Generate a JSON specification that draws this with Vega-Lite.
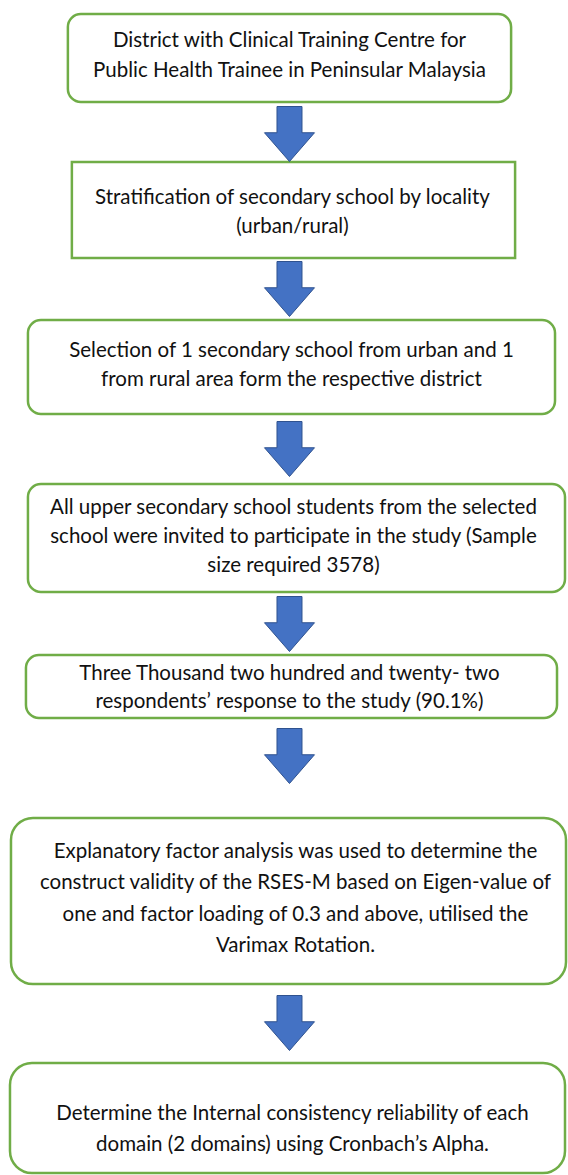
{
  "$schema": "https://vega.github.io/schema/vega-lite/v6.json",
  "width": 568,
  "height": 1175,
  "autosize": {"type": "fit", "contains": "padding"},
  "padding": 0,
  "background": "white",
  "config": {"view": {"stroke": null}},
  "datasets": {
    "boxes": [
      {"id": 1, "x1": 68, "x2": 512, "y1": 14, "y2": 102},
      {"id": 2, "x1": 72, "x2": 516, "y1": 162, "y2": 258},
      {"id": 3, "x1": 28, "x2": 556, "y1": 320, "y2": 414},
      {"id": 4, "x1": 28, "x2": 566, "y1": 484, "y2": 592},
      {"id": 5, "x1": 26, "x2": 558, "y1": 655, "y2": 718},
      {"id": 6, "x1": 11, "x2": 567, "y1": 818, "y2": 984},
      {"id": 7, "x1": 10, "x2": 566, "y1": 1063, "y2": 1173}
    ],
    "lines": [
      {"id": 1, "x": 290, "y": 41, "line": "District with Clinical Training Centre for"},
      {"id": 1, "x": 290, "y": 71, "line": "Public Health Trainee in Peninsular Malaysia"},
      {"id": 2, "x": 293, "y": 198, "line": "Stratification of secondary school by locality"},
      {"id": 2, "x": 293, "y": 227, "line": "(urban/rural)"},
      {"id": 3, "x": 292, "y": 351, "line": "Selection of 1 secondary school from urban and 1"},
      {"id": 3, "x": 292, "y": 380, "line": "from rural area form the respective district"},
      {"id": 4, "x": 294, "y": 508, "line": "All upper secondary school students from the selected"},
      {"id": 4, "x": 294, "y": 537, "line": "school were invited to participate in the study (Sample"},
      {"id": 4, "x": 294, "y": 566, "line": "size required 3578)"},
      {"id": 5, "x": 290, "y": 674, "line": "Three Thousand two hundred and twenty- two"},
      {"id": 5, "x": 290, "y": 702, "line": "respondents’ response to the study (90.1%)"},
      {"id": 6, "x": 296, "y": 852, "line": "Explanatory factor analysis was used to determine the"},
      {"id": 6, "x": 296, "y": 883, "line": "construct validity of the RSES-M based on Eigen-value of"},
      {"id": 6, "x": 296, "y": 915, "line": "one and factor loading of 0.3 and above, utilised the"},
      {"id": 6, "x": 296, "y": 946, "line": "Varimax Rotation."},
      {"id": 7, "x": 293, "y": 1114, "line": "Determine the Internal consistency reliability of each"},
      {"id": 7, "x": 293, "y": 1145, "line": "domain (2 domains) using Cronbach’s Alpha."}
    ],
    "arrows": [
      {"step": 1, "x": 290, "y": 134},
      {"step": 2, "x": 290, "y": 289},
      {"step": 3, "x": 290, "y": 449},
      {"step": 4, "x": 290, "y": 624},
      {"step": 5, "x": 290, "y": 756},
      {"step": 6, "x": 290, "y": 1023}
    ]
  },
  "layer": [
    {
      "data": {"name": "boxes"},
      "transform": [{"filter": "datum.id == 1 || datum.id == 3 || datum.id == 4 || datum.id == 5"}],
      "mark": {"type": "rect", "fill": "white", "stroke": "#70AD47", "strokeWidth": 2.5, "cornerRadius": 13},
      "encoding": {
        "x": {"field": "x1", "type": "quantitative", "scale": {"domain": [0, 568], "nice": false, "zero": false}, "axis": null},
        "x2": {"field": "x2"},
        "y": {"field": "y1", "type": "quantitative", "scale": {"domain": [0, 1175], "nice": false, "zero": false, "reverse": true}, "axis": null},
        "y2": {"field": "y2"}
      }
    },
    {
      "data": {"name": "boxes"},
      "transform": [{"filter": "datum.id == 2"}],
      "mark": {"type": "rect", "fill": "white", "stroke": "#70AD47", "strokeWidth": 2.5},
      "encoding": {
        "x": {"field": "x1", "type": "quantitative", "axis": null},
        "x2": {"field": "x2"},
        "y": {"field": "y1", "type": "quantitative", "axis": null},
        "y2": {"field": "y2"}
      }
    },
    {
      "data": {"name": "boxes"},
      "transform": [{"filter": "datum.id >= 6"}],
      "mark": {"type": "rect", "fill": "white", "stroke": "#70AD47", "strokeWidth": 2.5, "cornerRadius": 22},
      "encoding": {
        "x": {"field": "x1", "type": "quantitative", "axis": null},
        "x2": {"field": "x2"},
        "y": {"field": "y1", "type": "quantitative", "axis": null},
        "y2": {"field": "y2"}
      }
    },
    {
      "data": {"name": "arrows"},
      "mark": {
        "type": "point",
        "shape": "M-0.5,-1.1L0.5,-1.1L0.5,-0.05L1,-0.05L0,1.1L-1,-0.05L-0.5,-0.05Z",
        "size": 2500,
        "filled": true,
        "fill": "#4472C4",
        "stroke": "#2F528F",
        "strokeWidth": 1,
        "opacity": 1
      },
      "encoding": {
        "x": {"field": "x", "type": "quantitative", "axis": null},
        "y": {"field": "y", "type": "quantitative", "axis": null}
      }
    },
    {
      "data": {"name": "lines"},
      "mark": {"type": "text", "font": "Lato", "fontSize": 20.5, "color": "#111111", "align": "center", "baseline": "middle"},
      "encoding": {
        "x": {"field": "x", "type": "quantitative", "axis": null},
        "y": {"field": "y", "type": "quantitative", "axis": null},
        "text": {"field": "line"}
      }
    }
  ]
}
